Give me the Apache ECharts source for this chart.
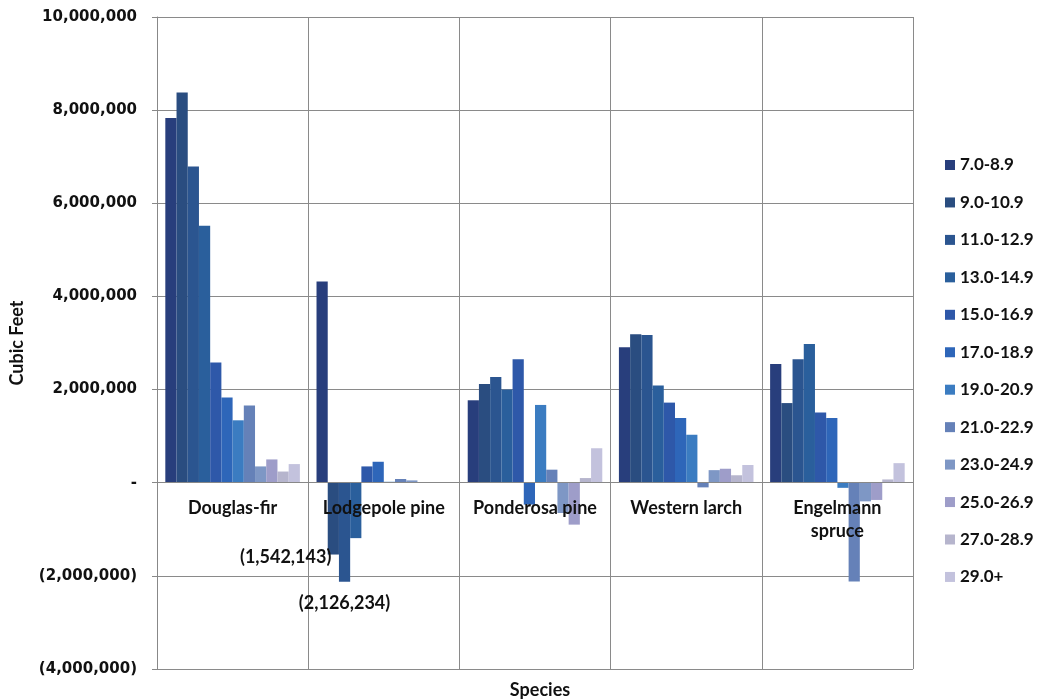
<!DOCTYPE html>
<html>
<head>
<meta charset="utf-8">
<script src="https://cdn.jsdelivr.net/npm/echarts@6/dist/echarts.min.js"></script>
<style>html,body{margin:0;padding:0;background:#fff}#c{width:1039px;height:700px}</style>
</head>
<body>
<div id="c"></div>
<script>
var categories = ['Douglas-fir', 'Lodgepole pine', 'Ponderosa pine', 'Western larch', 'Engelmann spruce'];
var seriesNames = ['7.0-8.9', '9.0-10.9', '11.0-12.9', '13.0-14.9', '15.0-16.9', '17.0-18.9', '19.0-20.9', '21.0-22.9', '23.0-24.9', '25.0-26.9', '27.0-28.9', '29.0+'];
var d7_8   = [7830000, 4320000, 1770000, 2910000, 2550000];
var d9_10  = [8380000, -1542143, 2120000, 3190000, 1710000];
var d11_12 = [6790000, -2126234, 2270000, 3170000, 2650000];
var d13_14 = [5520000, -1190000, 2000000, 2090000, 2980000];
var d15_16 = [2580000, 350000, 2650000, 1720000, 1510000];
var d17_18 = [1830000, 450000, -470000, 1390000, 1390000];
var d19_20 = [1340000, 20000, 1670000, 1030000, -110000];
var d21_22 = [1660000, 80000, 280000, -100000, -2120000];
var d23_24 = [350000, 50000, -650000, 270000, -400000];
var d25_26 = [500000, 10000, -900000, 300000, -370000];
var d27_28 = [240000, 5000, 100000, 160000, 70000];
var d29    = [400000, 3000, 740000, 380000, 420000];
var yTicks = [-4000000, -2000000, 0, 2000000, 4000000, 6000000, 8000000, 10000000];

var allData = [d7_8, d9_10, d11_12, d13_14, d15_16, d17_18, d19_20, d21_22, d23_24, d25_26, d27_28, d29];
var colors = ['#283E7C', '#2A4D80', '#2B5590', '#2A5F9C', '#2E58A9', '#2E66B9', '#3B7CC1', '#6581B8', '#7E97C5', '#9E9DC9', '#B6B5CD', '#C3C2DD'];

function fmt(v) {
  if (v === 0) return '-';
  var s = Math.abs(v).toLocaleString('en-US');
  return v < 0 ? '(' + s + ')' : s;
}

var labelFont = 'Lato, "DejaVu Sans", sans-serif';

var series = allData.map(function (arr, si) {
  return {
    name: seriesNames[si],
    type: 'bar',
    barGap: '0%',
    barCategoryGap: '11%',
    itemStyle: { color: colors[si] },
    data: arr.map(function (v, ci) {
      var item = { value: v };
      if (ci === 1 && si === 1) {
        item.label = { show: true, position: 'bottom', align: 'right', verticalAlign: 'middle', distance: 0, offset: [-2, 3],
          formatter: function (p) { return fmt(p.value); } };
      }
      if (ci === 1 && si === 2) {
        item.label = { show: true, position: 'bottom', distance: 12,
          formatter: function (p) { return fmt(p.value); } };
      }
      return item;
    }),
    label: { show: false, color: '#111', fontFamily: labelFont, fontWeight: 'bold', fontSize: 18 }
  };
});

var chart = echarts.init(document.getElementById('c'), null, { renderer: 'canvas' });
var gridTop = 17, gridBottom = 31, H = 700;
var yMin = yTicks[0], yMax = yTicks[yTicks.length - 1];
// offset of the category axis so it sits on the zero line (computed from the value scale)
var plotH = H - gridTop - gridBottom;
var zeroOffset = -plotH * (0 - yMin) / (yMax - yMin);

chart.setOption({
  animation: false,
  backgroundColor: '#ffffff',
  title: { text: 'Species', left: 535, top: 676, textAlign: 'center',
    textStyle: { fontFamily: labelFont, fontWeight: 'bold', fontSize: 18, color: '#111' } },
  legend: {
    orient: 'vertical', left: 940, top: 151,
    itemWidth: 10, itemHeight: 10, itemGap: 19.45,
    icon: 'rect',
    textStyle: { fontFamily: labelFont, fontWeight: 'bold', fontSize: 17, color: '#111', lineHeight: 18 },
    data: seriesNames
  },
  grid: { left: 157, right: 126, top: gridTop, bottom: gridBottom, containLabel: false, outerBoundsMode: 'none' },
  xAxis: [{
    type: 'category',
    data: categories,
    boundaryGap: true,
    axisLine: { show: false },
    axisTick: { show: false },
    splitLine: { show: true, lineStyle: { color: '#8a8a8a', width: 1 } },
    axisLabel: { show: false }
  }, {
    type: 'category',
    data: categories,
    position: 'bottom',
    offset: zeroOffset,
    z: 20,
    boundaryGap: true,
    axisLine: { show: true, lineStyle: { color: '#888', width: 1 } },
    axisTick: { show: false },
    splitLine: { show: false },
    axisLabel: { interval: 0, margin: 14, color: '#111', fontFamily: labelFont, fontWeight: 'bold', fontSize: 18, lineHeight: 23,
      formatter: function (v) { return v === 'Engelmann spruce' ? 'Engelmann\nspruce' : v; } }
  }],
  yAxis: {
    type: 'value',
    min: yMin, max: yMax, interval: 2000000,
    name: 'Cubic Feet', nameLocation: 'middle', nameGap: 131,
    nameTextStyle: { fontFamily: labelFont, fontWeight: 'bold', fontSize: 18, color: '#111' },
    axisLine: { show: true, onZero: false, lineStyle: { color: '#888' } },
    axisTick: { show: true, length: 5, lineStyle: { color: '#888' } },
    splitLine: { show: true, lineStyle: { color: '#8a8a8a', width: 1 } },
    axisLabel: { margin: 20, color: '#111', fontFamily: '"DejaVu Sans", Verdana, sans-serif', fontWeight: 'bold', fontSize: 15,
      formatter: function (v) { return fmt(v); } }
  },
  series: series
});
</script>
</body>
</html>
